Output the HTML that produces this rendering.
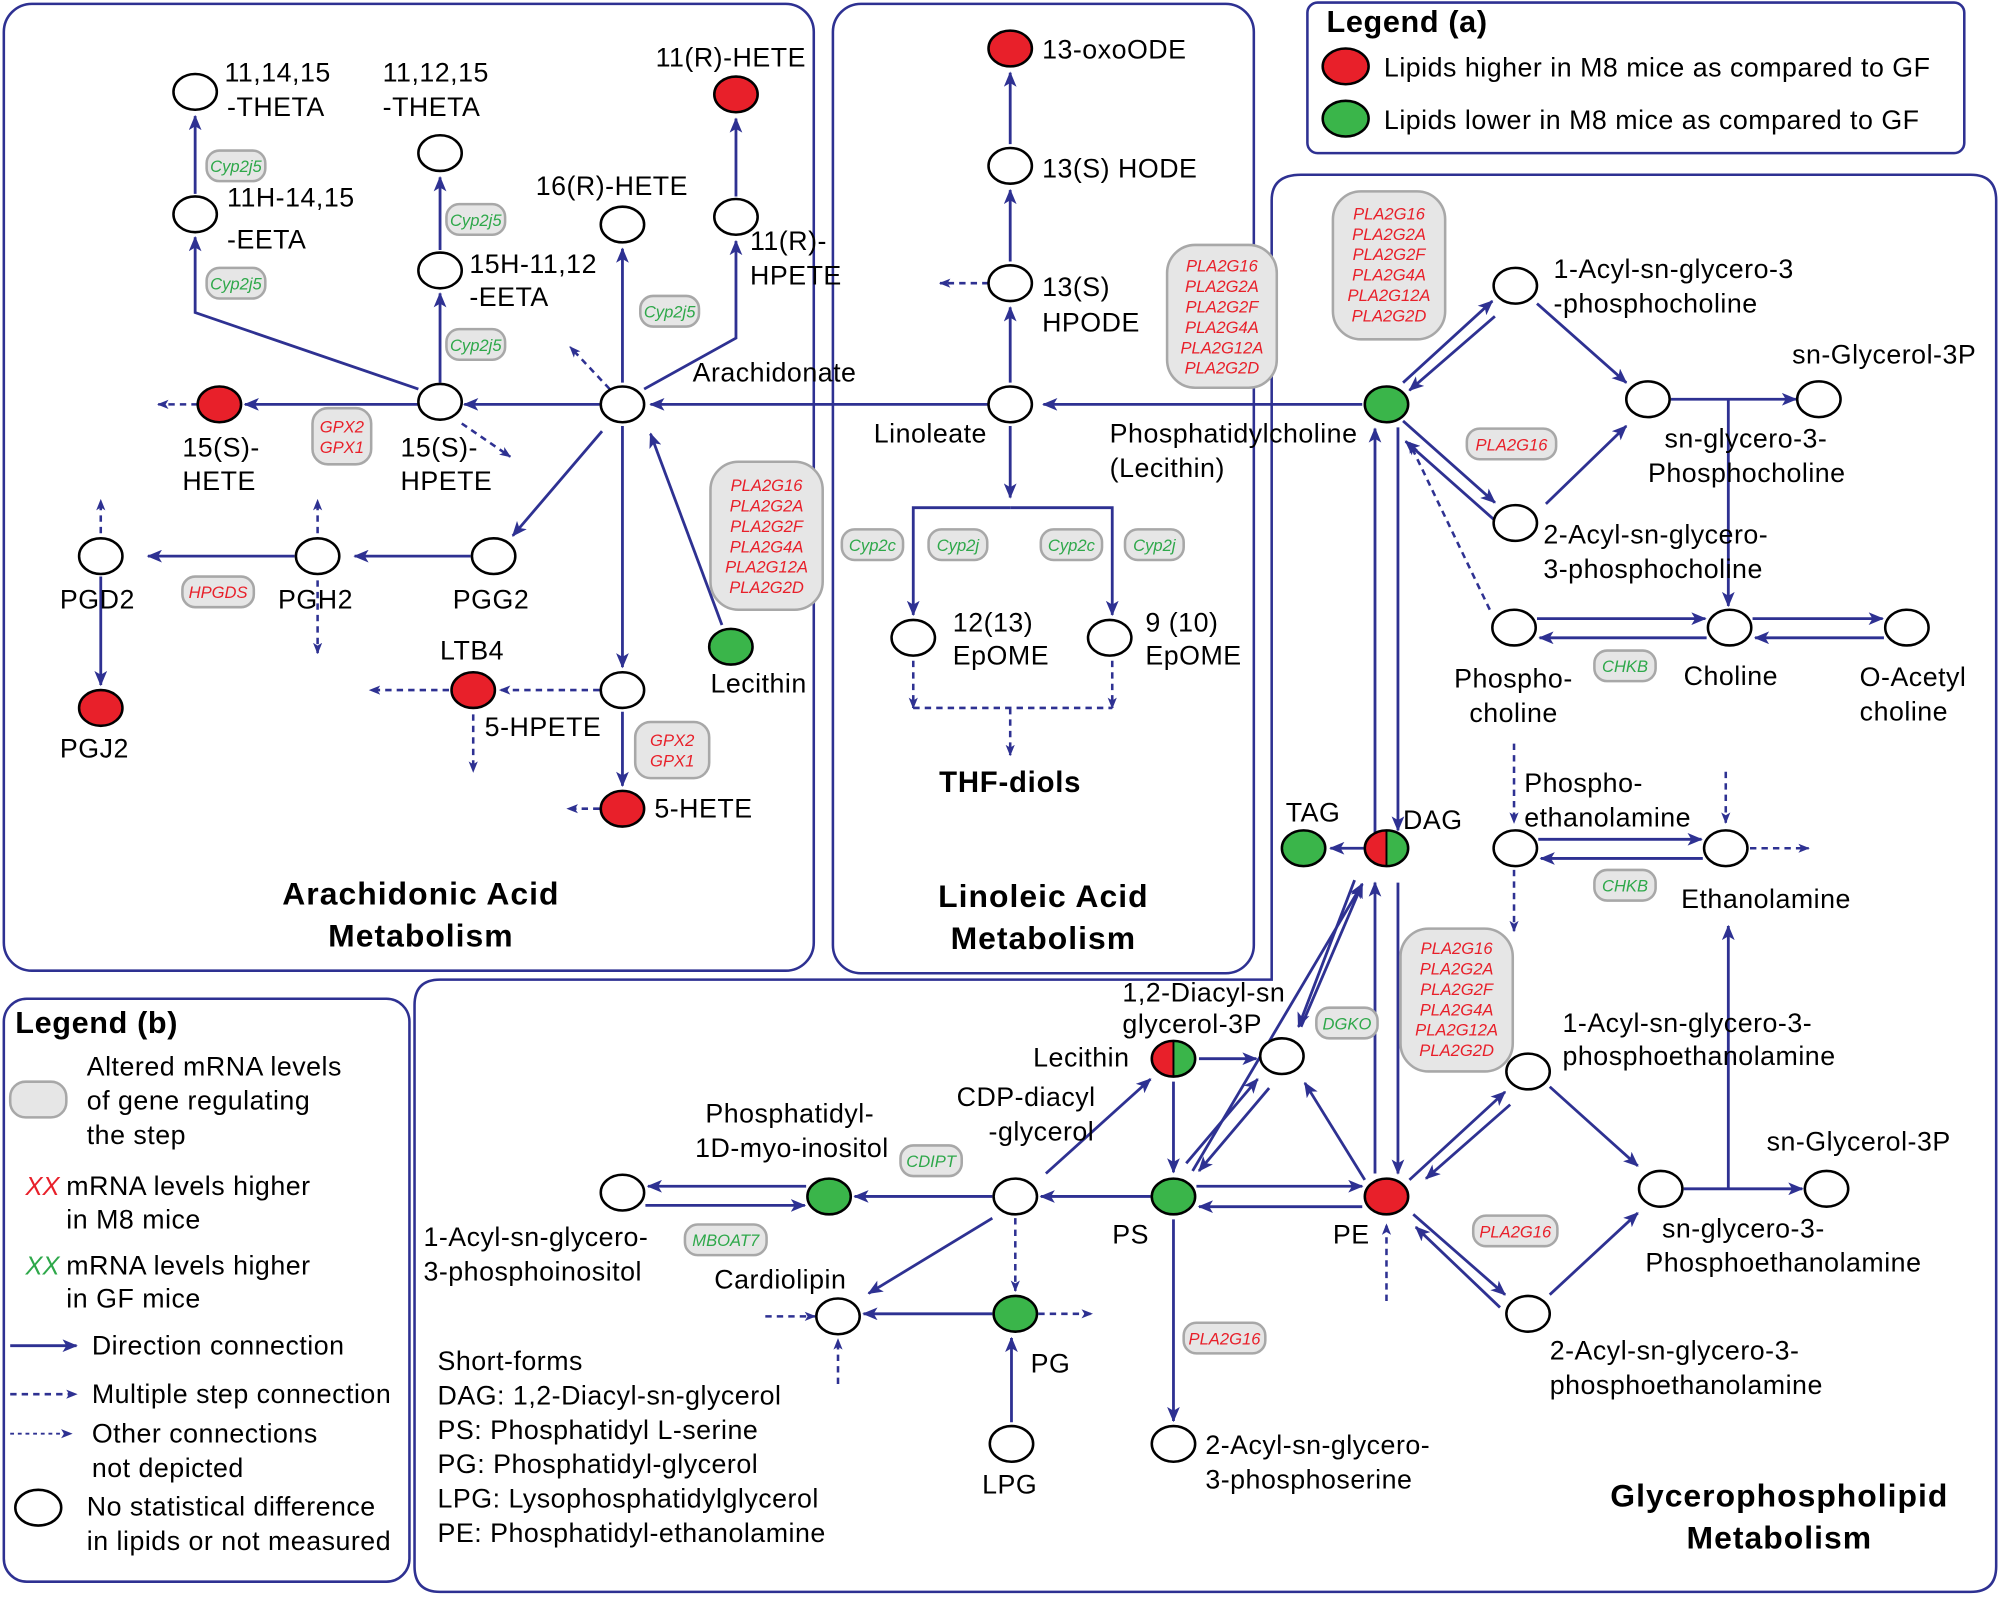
<!DOCTYPE html>
<html><head><meta charset="utf-8"><style>
html,body{margin:0;padding:0;background:#fff}
svg{display:block}
text{font-family:"Liberation Sans",sans-serif;fill:#000}
.l{font-size:21px;letter-spacing:0.4px}
.t{font-size:25px;font-weight:bold;letter-spacing:0.8px}
.g{font-size:13px;font-style:italic}
.r{fill:#e8202a}
.gr{fill:#2ea84a}
</style></head><body>
<svg width="2000" height="1597" viewBox="0 0 1568 1252" xmlns="http://www.w3.org/2000/svg">
<defs>
<marker id="a" viewBox="0 0 12 10" refX="11" refY="5" markerWidth="12" markerHeight="10" markerUnits="userSpaceOnUse" orient="auto"><path d="M0,0 L12,5 L0,10 L3,5 Z" fill="#2e3192"/></marker>
<marker id="d" viewBox="0 0 10 8" refX="9" refY="4" markerWidth="9" markerHeight="8" markerUnits="userSpaceOnUse" orient="auto"><path d="M0,0 L10,4 L0,8 L2.5,4 Z" fill="#2e3192"/></marker>
</defs>
<g fill="none" stroke="#2e3192" stroke-width="2">
<rect x="3" y="3" width="635" height="758" rx="22"/>
<rect x="653" y="3" width="330" height="760" rx="22"/>
<rect x="1025" y="2" width="515" height="118" rx="8"/>
<path d="M1020,137 H1545 Q1565,137 1565,157 V1228 Q1565,1248 1545,1248 H345 Q325,1248 325,1228 V788 Q325,768 345,768 H997 V157 Q997,137 1020,137 Z"/>
<rect x="3" y="783" width="318" height="457" rx="18"/>
</g>
<g fill="none" stroke="#2e3192" stroke-width="2.2" marker-end="url(#a)">
<path d="M470,317 H364"/><path d="M328,317 H192"/>
<path d="M345,300 V230"/><path d="M345,196 V139"/>
<path d="M328,305 L153,245 V186"/><path d="M153,152 V91"/>
<path d="M488,300 V195"/>
<path d="M505,305 L577,265 V189"/><path d="M577,154 V93"/>
<path d="M472,338 L402,420"/>
<path d="M369,436 H278"/><path d="M231,436 H116"/><path d="M79,452 V537"/>
<path d="M488,334 V523"/><path d="M488,558 V616"/>
<path d="M566,490 L510,340"/>
<path d="M775,317 H510"/><path d="M1068,317 H818"/>
<path d="M792,300 V241"/><path d="M792,205 V149"/><path d="M792,113 V57"/>
<path d="M792,334 V390"/>
<path d="M792,398 H716 V482"/><path d="M792,398 H872 V482"/>
<path d="M1100,300 L1170,236"/><path d="M1172,248 L1105,306"/>
<path d="M1205,238 L1275,300"/><path d="M1212,395 L1275,334"/>
<path d="M1310,313 H1408"/><path d="M1355,313 V475"/>
<path d="M1100,330 L1172,394"/><path d="M1172,408 L1102,346"/>
<path d="M1205,485 H1337"/><path d="M1338,500 H1207"/>
<path d="M1374,485 H1476"/><path d="M1477,500 H1376"/>
<path d="M1078,660 V336"/><path d="M1096,335 V651"/>
<path d="M1069,665 H1043"/>
<path d="M1206,658 H1334"/><path d="M1335,673 H1208"/>
<path d="M940,830 H985"/>
<path d="M1020,805 L1068,693"/><path d="M1062,690 L1018,805"/>
<path d="M1078,920 V692"/><path d="M1096,692 V920"/>
<path d="M935,918 L1068,693"/>
<path d="M930,912 L986,846"/><path d="M995,853 L940,918"/>
<path d="M1070,925 L1023,849"/>
<path d="M938,930 H1068"/><path d="M1068,946 H940"/>
<path d="M920,848 V919"/>
<path d="M920,956 V1114"/>
<path d="M902,938 H816"/><path d="M820,920 L902,846"/>
<path d="M778,938 H670"/>
<path d="M632,930 H508"/><path d="M506,945 H631"/>
<path d="M778,955 L681,1014"/>
<path d="M778,1030 H677"/>
<path d="M793,1115 V1049"/>
<path d="M1105,925 L1180,856"/><path d="M1184,866 L1118,924"/>
<path d="M1108,952 L1180,1015"/><path d="M1176,1025 L1110,962"/>
<path d="M1215,852 L1284,914"/><path d="M1215,1015 L1284,951"/>
<path d="M1320,932 H1413"/><path d="M1355,932 V726"/>
<path d="M8,1055 H60"/>
</g>
<g fill="none" stroke="#2e3192" stroke-width="2" stroke-dasharray="5,4" marker-end="url(#d)">
<path d="M155,317 H124"/>
<path d="M362,332 L400,358"/>
<path d="M478,305 L447,272"/>
<path d="M79,418 V392"/><path d="M249,418 V392"/><path d="M249,455 V512"/>
<path d="M470,541 H392"/><path d="M352,541 H290"/><path d="M371,560 V605"/>
<path d="M470,634 H445"/>
<path d="M775,222 H737"/>
<path d="M716,518 V555"/><path d="M872,518 V555"/>
<path d="M716,555 H872 M792,555 V592"/>
<path d="M1168,478 L1105,347"/>
<path d="M1187,583 V645"/><path d="M1187,682 V730"/>
<path d="M1353,605 V645"/><path d="M1372,665 H1418"/>
<path d="M1087,1020 V960"/>
<path d="M796,955 V1012"/>
<path d="M600,1032 H639"/><path d="M657,1085 V1050"/>
<path d="M814,1030 H856"/>
<path d="M8,1093 H60"/>
</g>
<path d="M8,1124 H56" fill="none" stroke="#2e3192" stroke-width="1.5" stroke-dasharray="3,3" marker-end="url(#d)"/>
<g stroke="#000" stroke-width="2" fill="#fff">
<ellipse cx="153" cy="72" rx="17" ry="14"/>
<ellipse cx="153" cy="168" rx="17" ry="14"/>
<ellipse cx="345" cy="120" rx="17" ry="14"/>
<ellipse cx="345" cy="212" rx="17" ry="14"/>
<ellipse cx="577" cy="74" rx="17" ry="14" fill="#e8202a"/>
<ellipse cx="577" cy="170" rx="17" ry="14"/>
<ellipse cx="488" cy="176" rx="17" ry="14"/>
<ellipse cx="488" cy="317" rx="17" ry="14"/>
<ellipse cx="345" cy="315" rx="17" ry="14"/>
<ellipse cx="172" cy="317" rx="17" ry="14" fill="#e8202a"/>
<ellipse cx="387" cy="436" rx="17" ry="14"/>
<ellipse cx="249" cy="436" rx="17" ry="14"/>
<ellipse cx="79" cy="436" rx="17" ry="14"/>
<ellipse cx="79" cy="555" rx="17" ry="14" fill="#e8202a"/>
<ellipse cx="371" cy="541" rx="17" ry="14" fill="#e8202a"/>
<ellipse cx="488" cy="541" rx="17" ry="14"/>
<ellipse cx="488" cy="634" rx="17" ry="14" fill="#e8202a"/>
<ellipse cx="573" cy="507" rx="17" ry="14" fill="#3ab54a"/>
<ellipse cx="792" cy="38" rx="17" ry="14" fill="#e8202a"/>
<ellipse cx="792" cy="130" rx="17" ry="14"/>
<ellipse cx="792" cy="222" rx="17" ry="14"/>
<ellipse cx="792" cy="317" rx="17" ry="14"/>
<ellipse cx="716" cy="500" rx="17" ry="14"/>
<ellipse cx="870" cy="500" rx="17" ry="14"/>
<ellipse cx="1087" cy="317" rx="17" ry="14" fill="#3ab54a"/>
<ellipse cx="1188" cy="224" rx="17" ry="14"/>
<ellipse cx="1292" cy="313" rx="17" ry="14"/>
<ellipse cx="1426" cy="313" rx="17" ry="14"/>
<ellipse cx="1188" cy="410" rx="17" ry="14"/>
<ellipse cx="1187" cy="492" rx="17" ry="14"/>
<ellipse cx="1356" cy="492" rx="17" ry="14"/>
<ellipse cx="1495" cy="492" rx="17" ry="14"/>
<ellipse cx="1022" cy="665" rx="17" ry="14" fill="#3ab54a"/>
<ellipse cx="1188" cy="665" rx="17" ry="14"/>
<ellipse cx="1353" cy="665" rx="17" ry="14"/>
<ellipse cx="1005" cy="828" rx="17" ry="14"/>
<ellipse cx="920" cy="938" rx="17" ry="14" fill="#3ab54a"/>
<ellipse cx="1087" cy="938" rx="17" ry="14" fill="#e8202a"/>
<ellipse cx="920" cy="1132" rx="17" ry="14"/>
<ellipse cx="796" cy="938" rx="17" ry="14"/>
<ellipse cx="650" cy="938" rx="17" ry="14" fill="#3ab54a"/>
<ellipse cx="488" cy="935" rx="17" ry="14"/>
<ellipse cx="657" cy="1032" rx="17" ry="14"/>
<ellipse cx="796" cy="1030" rx="17" ry="14" fill="#3ab54a"/>
<ellipse cx="793" cy="1132" rx="17" ry="14"/>
<ellipse cx="1198" cy="840" rx="17" ry="14"/>
<ellipse cx="1198" cy="1030" rx="17" ry="14"/>
<ellipse cx="1302" cy="932" rx="17" ry="14"/>
<ellipse cx="1432" cy="932" rx="17" ry="14"/>
<ellipse cx="30" cy="1182" rx="18" ry="14"/>
<ellipse cx="1055" cy="52" rx="18" ry="14" fill="#e8202a"/>
<ellipse cx="1055" cy="93" rx="18" ry="14" fill="#3ab54a"/>
</g>
<path d="M1087,651 A17,14 0 0 0 1087,679 Z" fill="#e8202a"/><path d="M1087,651 A17,14 0 0 1 1087,679 Z" fill="#3ab54a"/>
<ellipse cx="1087" cy="665" rx="17" ry="14" fill="none" stroke="#000" stroke-width="2"/><line x1="1087" y1="651" x2="1087" y2="679" stroke="#000" stroke-width="1.5"/>
<path d="M920,816 A17,14 0 0 0 920,844 Z" fill="#e8202a"/><path d="M920,816 A17,14 0 0 1 920,844 Z" fill="#3ab54a"/>
<ellipse cx="920" cy="830" rx="17" ry="14" fill="none" stroke="#000" stroke-width="2"/><line x1="920" y1="816" x2="920" y2="844" stroke="#000" stroke-width="1.5"/>
<g fill="#e6e6e6" stroke="#a8a8a8" stroke-width="2">
<rect x="162" y="118" width="46" height="24" rx="10"/>
<rect x="162" y="210" width="46" height="24" rx="10"/>
<rect x="350" y="160" width="46" height="24" rx="10"/>
<rect x="350" y="258" width="46" height="24" rx="10"/>
<rect x="502" y="232" width="46" height="24" rx="10"/>
<rect x="245" y="320" width="46" height="44" rx="12"/>
<rect x="143" y="452" width="56" height="24" rx="10"/>
<rect x="557" y="362" width="88" height="116" rx="22"/>
<rect x="498" y="566" width="58" height="44" rx="12"/>
<rect x="660" y="415" width="48" height="24" rx="10"/>
<rect x="728" y="415" width="46" height="24" rx="10"/>
<rect x="816" y="415" width="48" height="24" rx="10"/>
<rect x="882" y="415" width="46" height="24" rx="10"/>
<rect x="915" y="192" width="86" height="112" rx="22"/>
<rect x="1045" y="150" width="88" height="116" rx="22"/>
<rect x="1150" y="336" width="70" height="24" rx="10"/>
<rect x="1250" y="510" width="48" height="24" rx="10"/>
<rect x="1250" y="682" width="48" height="24" rx="10"/>
<rect x="1098" y="728" width="88" height="112" rx="22"/>
<rect x="1032" y="790" width="48" height="24" rx="10"/>
<rect x="928" y="1037" width="64" height="24" rx="10"/>
<rect x="706" y="898" width="48" height="24" rx="10"/>
<rect x="537" y="960" width="64" height="24" rx="10"/>
<rect x="1155" y="953" width="66" height="24" rx="10"/>
<rect x="8" y="848" width="44" height="28" rx="12"/>
</g>
<g text-anchor="middle">
<text class="g gr" x="185" y="135">Cyp2j5</text>
<text class="g gr" x="185" y="227">Cyp2j5</text>
<text class="g gr" x="373" y="177">Cyp2j5</text>
<text class="g gr" x="373" y="275">Cyp2j5</text>
<text class="g gr" x="525" y="249">Cyp2j5</text>
<text class="g r" x="268" y="339">GPX2</text><text class="g r" x="268" y="355">GPX1</text>
<text class="g r" x="171" y="469">HPGDS</text>
<text class="g r" x="527" y="585">GPX2</text><text class="g r" x="527" y="601">GPX1</text>
<text class="g gr" x="684" y="432">Cyp2c</text>
<text class="g gr" x="751" y="432">Cyp2j</text>
<text class="g gr" x="840" y="432">Cyp2c</text>
<text class="g gr" x="905" y="432">Cyp2j</text>
<text class="g r" x="1185" y="353">PLA2G16</text>
<text class="g gr" x="1274" y="527">CHKB</text>
<text class="g gr" x="1274" y="699">CHKB</text>
<text class="g gr" x="1056" y="807">DGKO</text>
<text class="g r" x="960" y="1054">PLA2G16</text>
<text class="g gr" x="730" y="915">CDIPT</text>
<text class="g gr" x="569" y="977">MBOAT7</text>
<text class="g r" x="1188" y="970">PLA2G16</text>
<text class="g r" x="601" y="385">PLA2G16</text><text class="g r" x="601" y="401">PLA2G2A</text><text class="g r" x="601" y="417">PLA2G2F</text><text class="g r" x="601" y="433">PLA2G4A</text><text class="g r" x="601" y="449">PLA2G12A</text><text class="g r" x="601" y="465">PLA2G2D</text>
<text class="g r" x="958" y="213">PLA2G16</text><text class="g r" x="958" y="229">PLA2G2A</text><text class="g r" x="958" y="245">PLA2G2F</text><text class="g r" x="958" y="261">PLA2G4A</text><text class="g r" x="958" y="277">PLA2G12A</text><text class="g r" x="958" y="293">PLA2G2D</text>
<text class="g r" x="1089" y="172">PLA2G16</text><text class="g r" x="1089" y="188">PLA2G2A</text><text class="g r" x="1089" y="204">PLA2G2F</text><text class="g r" x="1089" y="220">PLA2G4A</text><text class="g r" x="1089" y="236">PLA2G12A</text><text class="g r" x="1089" y="252">PLA2G2D</text>
<text class="g r" x="1142" y="748">PLA2G16</text><text class="g r" x="1142" y="764">PLA2G2A</text><text class="g r" x="1142" y="780">PLA2G2F</text><text class="g r" x="1142" y="796">PLA2G4A</text><text class="g r" x="1142" y="812">PLA2G12A</text><text class="g r" x="1142" y="828">PLA2G2D</text>
</g>
<g>
<text class="l" x="176" y="64">11,14,15</text><text class="l" x="178" y="91">-THETA</text>
<text class="l" x="178" y="162">11H-14,15</text><text class="l" x="178" y="195">-EETA</text>
<text class="l" x="300" y="64">11,12,15</text><text class="l" x="300" y="91">-THETA</text>
<text class="l" x="368" y="214">15H-11,12</text><text class="l" x="368" y="240">-EETA</text>
<text class="l" x="514" y="52">11(R)-HETE</text>
<text class="l" x="588" y="196">11(R)-</text><text class="l" x="588" y="223">HPETE</text>
<text class="l" x="420" y="153">16(R)-HETE</text>
<text class="l" x="543" y="299">Arachidonate</text>
<text class="l" x="314" y="358">15(S)-</text><text class="l" x="314" y="384">HPETE</text>
<text class="l" x="143" y="358">15(S)-</text><text class="l" x="143" y="384">HETE</text>
<text class="l" x="355" y="477">PGG2</text>
<text class="l" x="218" y="477">PGH2</text>
<text class="l" x="47" y="477">PGD2</text>
<text class="l" x="47" y="594">PGJ2</text>
<text class="l" x="345" y="517">LTB4</text>
<text class="l" x="380" y="577">5-HPETE</text>
<text class="l" x="513" y="641">5-HETE</text>
<text class="l" x="557" y="543">Lecithin</text>
<text class="l" x="817" y="46">13-oxoODE</text>
<text class="l" x="817" y="139">13(S) HODE</text>
<text class="l" x="817" y="232">13(S)</text><text class="l" x="817" y="260">HPODE</text>
<text class="l" x="685" y="347">Linoleate</text>
<text class="l" x="747" y="495">12(13)</text><text class="l" x="747" y="521">EpOME</text>
<text class="l" x="898" y="495">9 (10)</text><text class="l" x="898" y="521">EpOME</text>
<text x="792" y="621" text-anchor="middle" style="font-size:23px;font-weight:bold;letter-spacing:0.6px">THF-diols</text>
<text class="l" x="870" y="347">Phosphatidylcholine</text><text class="l" x="870" y="374">(Lecithin)</text>
<text class="l" x="1218" y="218">1-Acyl-sn-glycero-3</text><text class="l" x="1218" y="245">-phosphocholine</text>
<text class="l" x="1405" y="285">sn-Glycerol-3P</text>
<text class="l" x="1305" y="351">sn-glycero-3-</text><text class="l" x="1292" y="378">Phosphocholine</text>
<text class="l" x="1210" y="426">2-Acyl-sn-glycero-</text><text class="l" x="1210" y="453">3-phosphocholine</text>
<text class="l" x="1140" y="539">Phospho-</text><text class="l" x="1152" y="566">choline</text>
<text class="l" x="1320" y="537">Choline</text>
<text class="l" x="1458" y="538">O-Acetyl</text><text class="l" x="1458" y="565">choline</text>
<text class="l" x="1008" y="644">TAG</text><text class="l" x="1100" y="650">DAG</text>
<text class="l" x="1195" y="621">Phospho-</text><text class="l" x="1195" y="648">ethanolamine</text>
<text class="l" x="1318" y="712">Ethanolamine</text>
<text class="l" x="880" y="785">1,2-Diacyl-sn</text><text class="l" x="880" y="810">glycerol-3P</text>
<text class="l" x="810" y="836">Lecithin</text>
<text class="l" x="1225" y="809">1-Acyl-sn-glycero-3-</text><text class="l" x="1225" y="835">phosphoethanolamine</text>
<text class="l" x="750" y="867">CDP-diacyl</text><text class="l" x="775" y="894">-glycerol</text>
<text class="l" x="553" y="880">Phosphatidyl-</text><text class="l" x="545" y="907">1D-myo-inositol</text>
<text class="l" x="872" y="975">PS</text><text class="l" x="1045" y="975">PE</text>
<text class="l" x="332" y="977">1-Acyl-sn-glycero-</text><text class="l" x="332" y="1004">3-phosphoinositol</text>
<text class="l" x="560" y="1010">Cardiolipin</text>
<text class="l" x="808" y="1076">PG</text>
<text class="l" x="770" y="1171">LPG</text>
<text class="l" x="945" y="1140">2-Acyl-sn-glycero-</text><text class="l" x="945" y="1167">3-phosphoserine</text>
<text class="l" x="1385" y="902">sn-Glycerol-3P</text>
<text class="l" x="1303" y="970">sn-glycero-3-</text><text class="l" x="1290" y="997">Phosphoethanolamine</text>
<text class="l" x="1215" y="1066">2-Acyl-sn-glycero-3-</text><text class="l" x="1215" y="1093">phosphoethanolamine</text>
<text class="l" x="343" y="1074">Short-forms</text>
<text class="l" x="343" y="1101">DAG: 1,2-Diacyl-sn-glycerol</text>
<text class="l" x="343" y="1128">PS: Phosphatidyl L-serine</text>
<text class="l" x="343" y="1155">PG: Phosphatidyl-glycerol</text>
<text class="l" x="343" y="1182">LPG: Lysophosphatidylglycerol</text>
<text class="l" x="343" y="1209">PE: Phosphatidyl-ethanolamine</text>
<text class="l" x="1085" y="60">Lipids higher in M8 mice as compared to GF</text>
<text class="l" x="1085" y="101">Lipids lower in M8 mice as compared to GF</text>
<text class="l" x="68" y="843">Altered mRNA levels</text><text class="l" x="68" y="870">of gene regulating</text><text class="l" x="68" y="897">the step</text>
<text class="l" x="52" y="937">mRNA levels higher</text><text class="l" x="52" y="963">in M8 mice</text>
<text class="l" x="52" y="999">mRNA levels higher</text><text class="l" x="52" y="1025">in GF mice</text>
<text class="l" x="72" y="1062">Direction connection</text>
<text class="l" x="72" y="1100">Multiple step connection</text>
<text class="l" x="72" y="1131">Other connections</text><text class="l" x="72" y="1158">not depicted</text>
<text class="l" x="68" y="1188">No statistical difference</text><text class="l" x="68" y="1215">in lipids or not measured</text>
</g>
<text x="20" y="937" style="font-size:20px;font-style:italic;fill:#e8202a">XX</text>
<text x="20" y="999" style="font-size:20px;font-style:italic;fill:#2ea84a">XX</text>
<text class="t" x="330" y="709" text-anchor="middle">Arachidonic Acid</text><text class="t" x="330" y="742" text-anchor="middle">Metabolism</text>
<text class="t" x="818" y="711" text-anchor="middle">Linoleic Acid</text><text class="t" x="818" y="744" text-anchor="middle">Metabolism</text>
<text class="t" x="1395" y="1181" text-anchor="middle">Glycerophospholipid</text><text class="t" x="1395" y="1214" text-anchor="middle">Metabolism</text>
<text x="1040" y="25" style="font-size:24px;font-weight:bold;letter-spacing:0.5px">Legend (a)</text>
<text x="12" y="810" style="font-size:24px;font-weight:bold;letter-spacing:0.5px">Legend (b)</text>
</svg>
</body></html>
